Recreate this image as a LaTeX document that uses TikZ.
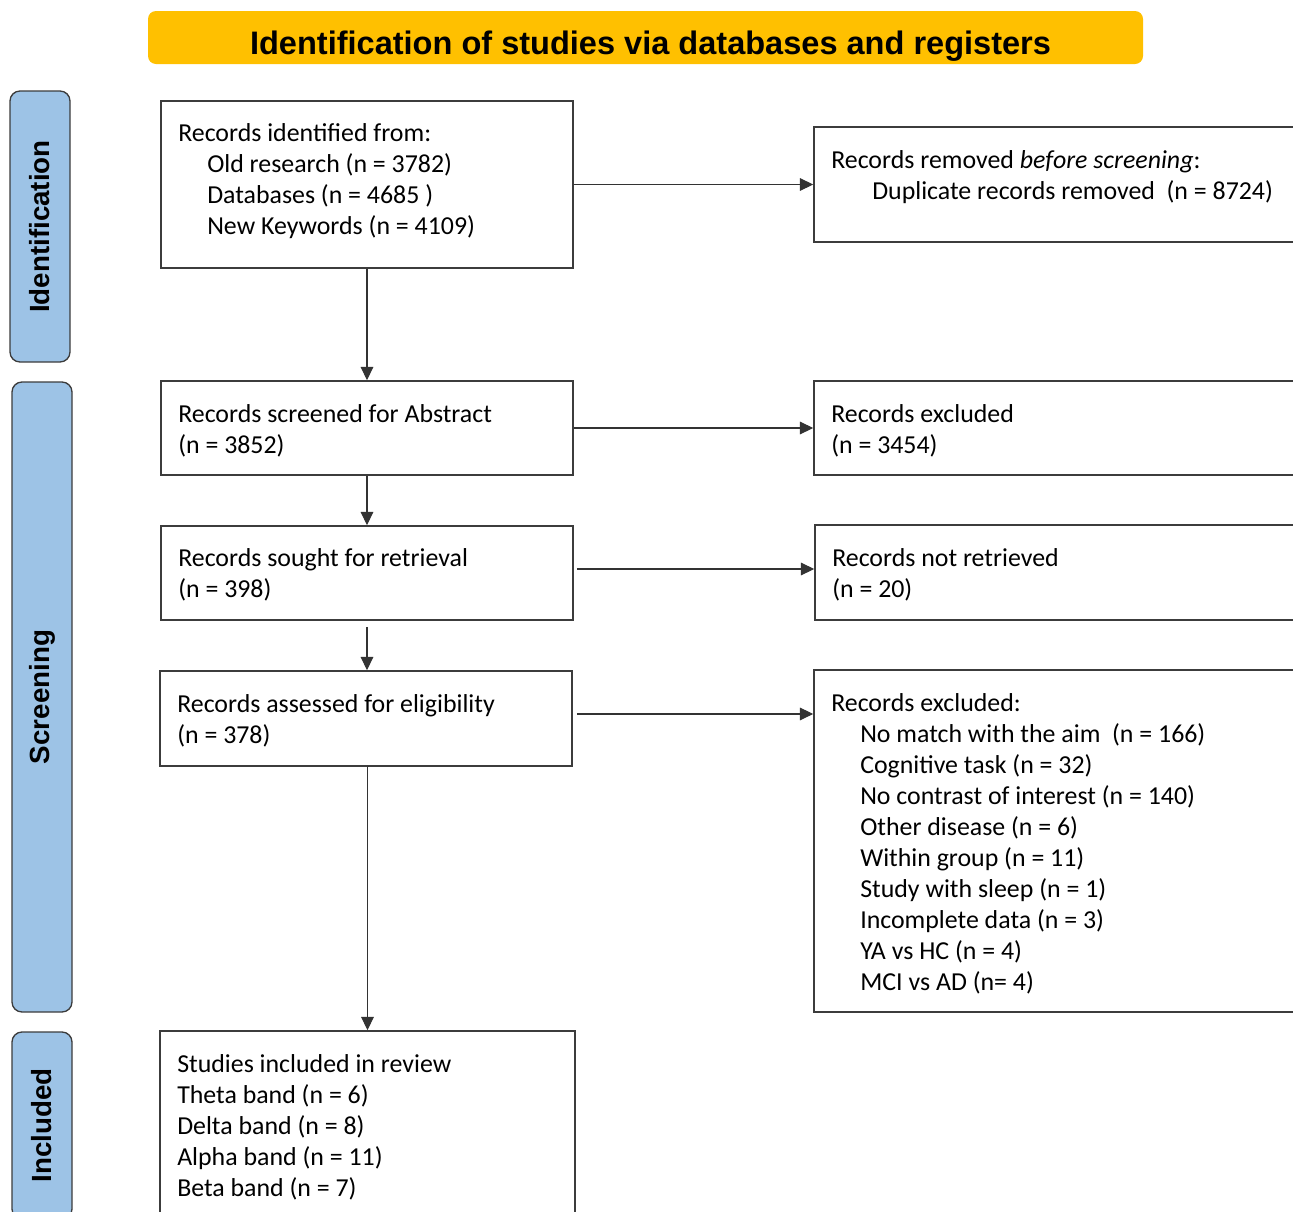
\documentclass[tikz,border=0pt]{standalone}
\usepackage{fontspec}
\setmainfont{Carlito}
\newfontfamily\headfont{Liberation Sans}
\usetikzlibrary{arrows.meta,calc}
\definecolor{titleorange}{RGB}{255,192,0}
\definecolor{sideblue}{RGB}{157,195,230}
\definecolor{edgegray}{RGB}{60,60,60}
\begin{document}
\begin{tikzpicture}[x=0.75pt,y=-0.75pt,
  box/.style={draw=edgegray,line width=1.2pt,inner sep=0pt},
  txt/.style={inner sep=0pt,align=left,font=\fontsize{19.4pt}{23.25pt}\selectfont,anchor=base west},
  side/.style={draw=edgegray,line width=1pt,fill=sideblue,rounded corners=7.5pt,minimum width=45pt,inner sep=0pt},
  sidetext/.style={inner sep=0pt,rotate=90,font=\headfont\bfseries\fontsize{20.8pt}{24pt}\selectfont},
  arr/.style={line width=0.8pt,draw=black!80,-{Triangle[length=10pt,width=9.5pt]}}]
\useasboundingbox (0,0) rectangle (1293,1211);
\begin{scope}
\clip (0,0) rectangle (1293,1211);
% title
\node[fill=titleorange,rounded corners=6pt,minimum width=746.25pt,inner sep=0pt,
  text height=32.25pt,text depth=7.5pt,font=\headfont\bfseries\fontsize{24.4pt}{28pt}\selectfont] (title) at (645.5,37.5) {\hspace*{7.5pt}Identification of studies via databases and registers};
% side labels
\node[side,minimum height=203.25pt] (sid) at (40,226.5) {};
\node[sidetext] (sidt) at (sid.center) {Identification};
\node[side,minimum height=472.5pt] (sscr) at (42,697) {};
\node[sidetext] (sscrt) at (sscr.center) {Screening};
\node[side,minimum height=140.25pt] (sinc) at (42,1125.5) {};
\node[sidetext] (sinct) at (sinc.center) {Included};
% boxes
\node[box,minimum width=309pt,minimum height=125.25pt] (b1) at (367,184.5) {};
\node[txt] (b1t) at (178,234) {Records identified from:\\\hspace*{21.75pt}Old research (n = 3782)\\\hspace*{21.75pt}Databases (n = 4685 )\\\hspace*{21.75pt}New Keywords (n = 4109)};
\node[box,minimum width=364.5pt,minimum height=86.25pt] (rem) at (1057,184.5) {};
\node[txt] (remt) at (831,199) {Records removed \textit{before screening}:\\\hspace*{30.75pt}Duplicate records removed\ \ (n = 8724)};
\node[box,minimum width=309pt,minimum height=70.5pt] (b2) at (367,428) {};
\node[txt] (b2t) at (178,453) {Records screened for Abstract\\(n = 3852)};
\node[box,minimum width=364.5pt,minimum height=70.5pt] (ex1) at (1057,428) {};
\node[txt] (ex1t) at (831,453) {Records excluded\\(n = 3454)};
\node[box,minimum width=309pt,minimum height=70.5pt] (b3) at (367,573) {};
\node[txt] (b3t) at (178,597) {Records sought for retrieval\\(n = 398)};
\node[box,minimum width=363.75pt,minimum height=71.25pt] (nr) at (1057.5,572.5) {};
\node[txt] (nrt) at (832,597) {Records not retrieved\\(n = 20)};
\node[box,minimum width=309pt,minimum height=71.25pt] (b4) at (366,718.5) {};
\node[txt] (b4t) at (177,743) {Records assessed for eligibility\\(n = 378)};
\node[box,minimum width=364.5pt,minimum height=256.5pt] (ex2) at (1057,841) {};
\node[txt] (ex2t) at (831,990) {Records excluded:\\
\hspace*{21.75pt}No match with the aim\ \ (n = 166)\\
\hspace*{21.75pt}Cognitive task (n = 32)\\
\hspace*{21.75pt}No contrast of interest (n = 140)\\
\hspace*{21.75pt}Other disease (n = 6)\\
\hspace*{21.75pt}Within group (n = 11)\\
\hspace*{21.75pt}Study with sleep (n = 1)\\
\hspace*{21.75pt}Incomplete data (n = 3)\\
\hspace*{21.75pt}YA vs HC (n = 4)\\
\hspace*{21.75pt}MCI vs AD (n= 4)};
\node[box,minimum width=311.25pt,minimum height=149.25pt] (b5) at (367.5,1130.5) {};
\node[txt] (b5t) at (177,1196) {Studies included in review\\Theta band (n = 6)\\Delta band (n = 8)\\Alpha band (n = 11)\\Beta band (n = 7)};
\end{scope}
% arrows
\draw[arr] (b1.east) -- (rem.west);
\draw[arr] (b1.south) -- (b2.north);
\draw[arr] (b2.east) -- (ex1.west);
\draw[arr] (b2.south) -- (b3.north);
\draw[arr] ([xshift=2.25pt,yshift=3pt]b3.east) -- ([yshift=3pt]b3.east -| nr.west);
\draw[arr,shorten <=4.5pt] (b3.south) -- (b3.south |- b4.north);
\draw[arr] ([xshift=3pt,yshift=3.4pt]b4.east) -- ([yshift=3.4pt]b4.east -| ex2.west);
\draw[arr,shorten <=1.5pt] (b4.south) -- (b4.south -| b5.north) -- (b5.north);
\end{tikzpicture}
\end{document}
